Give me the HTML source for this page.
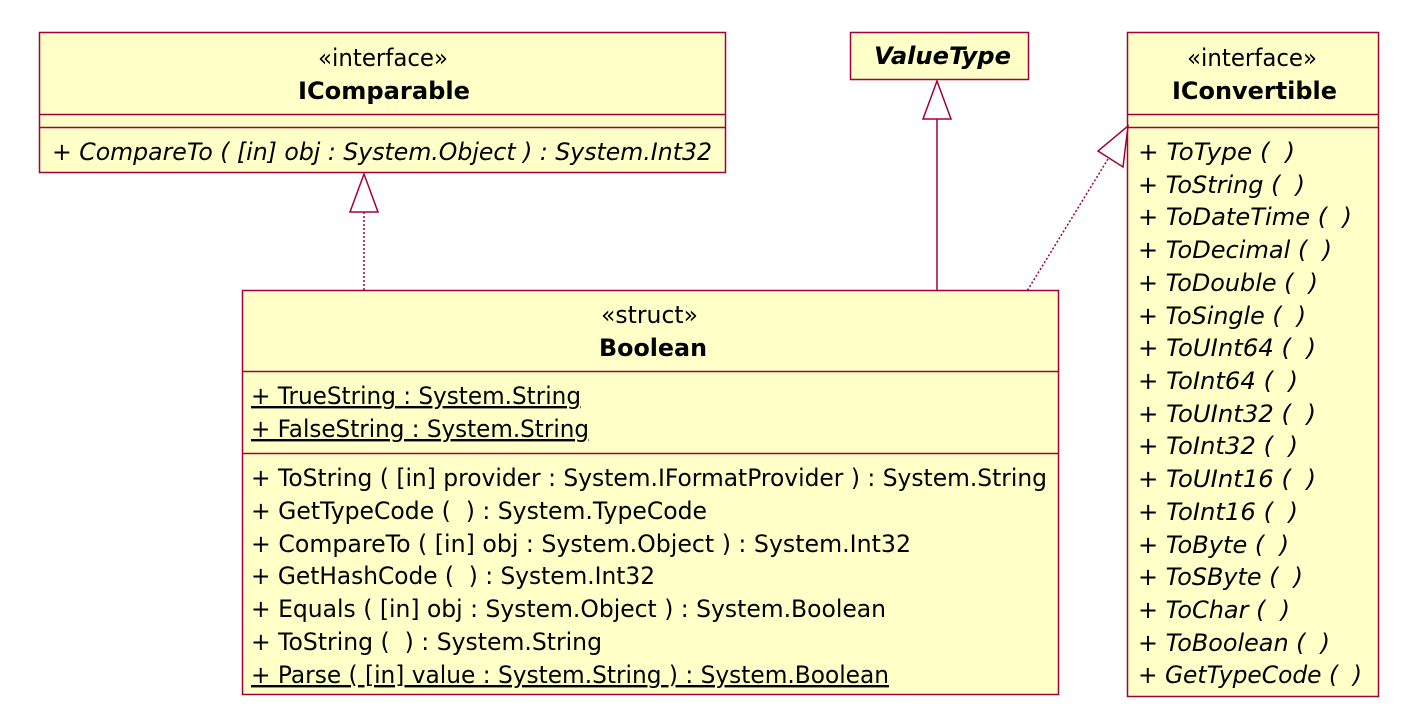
<!DOCTYPE html>
<html><head><meta charset="utf-8"><style>
html,body{margin:0;padding:0;background:#fff}
svg{display:block}
text{font-family:"DejaVu Sans","Liberation Sans",sans-serif;font-size:24px;fill:#000;white-space:pre}
.b{font-weight:bold}
.i{font-style:italic}
.u{text-decoration:underline}
</style></head><body>
<svg width="1410" height="722" viewBox="0 0 1410 722" xmlns="http://www.w3.org/2000/svg" xml:space="preserve">
<g fill="#ffffc8" stroke="#a0003c" stroke-width="1.5">
<rect x="39.5" y="32.5" width="686" height="140"/>
<rect x="850.5" y="32.5" width="178" height="47"/>
<rect x="1127.5" y="32.5" width="251" height="664"/>
<rect x="242.5" y="290.5" width="816" height="404"/>
</g>
<g stroke="#a0003c" stroke-width="1.5" fill="none">
<line x1="39" y1="114.5" x2="725" y2="114.5"/>
<line x1="39" y1="127.5" x2="725" y2="127.5"/>
<line x1="1127" y1="114.5" x2="1378" y2="114.5"/>
<line x1="1127" y1="127.5" x2="1378" y2="127.5"/>
<line x1="242" y1="371.5" x2="1058" y2="371.5"/>
<line x1="242" y1="453.5" x2="1058" y2="453.5"/>
<polygon points="364,174 350,212 378,212" fill="#fff"/>
<line x1="364" y1="212" x2="364" y2="290" stroke-dasharray="2,2"/>
<polygon points="937,81 923,119 951,119" fill="#fff"/>
<line x1="937" y1="119" x2="937" y2="290"/>
<polygon points="1128,126 1098,151 1123,167" fill="#fff"/>
<line x1="1108" y1="159" x2="1027" y2="291" stroke-dasharray="2,2"/>
</g>
<text x="318" y="66" textLength="130" lengthAdjust="spacingAndGlyphs">«interface»</text>
<text x="298" y="99" class="b" textLength="172" lengthAdjust="spacingAndGlyphs">IComparable</text>
<text x="52" y="160" class="i" textLength="660" lengthAdjust="spacingAndGlyphs">+ CompareTo ( [in] obj : System.Object ) : System.Int32</text>
<text x="874" y="64" class="b i" textLength="137" lengthAdjust="spacingAndGlyphs">ValueType</text>
<text x="1187" y="66" textLength="130" lengthAdjust="spacingAndGlyphs">«interface»</text>
<text x="1172" y="99" class="b" textLength="165" lengthAdjust="spacingAndGlyphs">IConvertible</text>
<text x="601" y="323" textLength="97" lengthAdjust="spacingAndGlyphs">«struct»</text>
<text x="599" y="356" class="b" textLength="108" lengthAdjust="spacingAndGlyphs">Boolean</text>
<text x="251" y="404" class="u" textLength="330" lengthAdjust="spacingAndGlyphs">+ TrueString : System.String</text>
<text x="251" y="437" class="u" textLength="338" lengthAdjust="spacingAndGlyphs">+ FalseString : System.String</text>
<text x="251" y="486" textLength="796" lengthAdjust="spacingAndGlyphs">+ ToString ( [in] provider : System.IFormatProvider ) : System.String</text>
<text x="251" y="519" textLength="456" lengthAdjust="spacingAndGlyphs">+ GetTypeCode (  ) : System.TypeCode</text>
<text x="251" y="552" textLength="660" lengthAdjust="spacingAndGlyphs">+ CompareTo ( [in] obj : System.Object ) : System.Int32</text>
<text x="251" y="584" textLength="404" lengthAdjust="spacingAndGlyphs">+ GetHashCode (  ) : System.Int32</text>
<text x="251" y="617" textLength="635" lengthAdjust="spacingAndGlyphs">+ Equals ( [in] obj : System.Object ) : System.Boolean</text>
<text x="251" y="650" textLength="351" lengthAdjust="spacingAndGlyphs">+ ToString (  ) : System.String</text>
<text x="251" y="683" class="u" textLength="638" lengthAdjust="spacingAndGlyphs">+ Parse ( [in] value : System.String ) : System.Boolean</text>
<text x="1138" y="160" class="i" textLength="157" lengthAdjust="spacingAndGlyphs">+ ToType (  )</text>
<text x="1138" y="193" class="i" textLength="167" lengthAdjust="spacingAndGlyphs">+ ToString (  )</text>
<text x="1138" y="225" class="i" textLength="214" lengthAdjust="spacingAndGlyphs">+ ToDateTime (  )</text>
<text x="1138" y="258" class="i" textLength="194" lengthAdjust="spacingAndGlyphs">+ ToDecimal (  )</text>
<text x="1138" y="291" class="i" textLength="180" lengthAdjust="spacingAndGlyphs">+ ToDouble (  )</text>
<text x="1138" y="324" class="i" textLength="168" lengthAdjust="spacingAndGlyphs">+ ToSingle (  )</text>
<text x="1138" y="356" class="i" textLength="178" lengthAdjust="spacingAndGlyphs">+ ToUInt64 (  )</text>
<text x="1138" y="389" class="i" textLength="160" lengthAdjust="spacingAndGlyphs">+ ToInt64 (  )</text>
<text x="1138" y="422" class="i" textLength="178" lengthAdjust="spacingAndGlyphs">+ ToUInt32 (  )</text>
<text x="1138" y="454" class="i" textLength="160" lengthAdjust="spacingAndGlyphs">+ ToInt32 (  )</text>
<text x="1138" y="487" class="i" textLength="178" lengthAdjust="spacingAndGlyphs">+ ToUInt16 (  )</text>
<text x="1138" y="520" class="i" textLength="160" lengthAdjust="spacingAndGlyphs">+ ToInt16 (  )</text>
<text x="1138" y="553" class="i" textLength="151" lengthAdjust="spacingAndGlyphs">+ ToByte (  )</text>
<text x="1138" y="585" class="i" textLength="165" lengthAdjust="spacingAndGlyphs">+ ToSByte (  )</text>
<text x="1138" y="618" class="i" textLength="152" lengthAdjust="spacingAndGlyphs">+ ToChar (  )</text>
<text x="1138" y="651" class="i" textLength="192" lengthAdjust="spacingAndGlyphs">+ ToBoolean (  )</text>
<text x="1138" y="683" class="i" textLength="224" lengthAdjust="spacingAndGlyphs">+ GetTypeCode (  )</text>
</svg>
</body></html>
